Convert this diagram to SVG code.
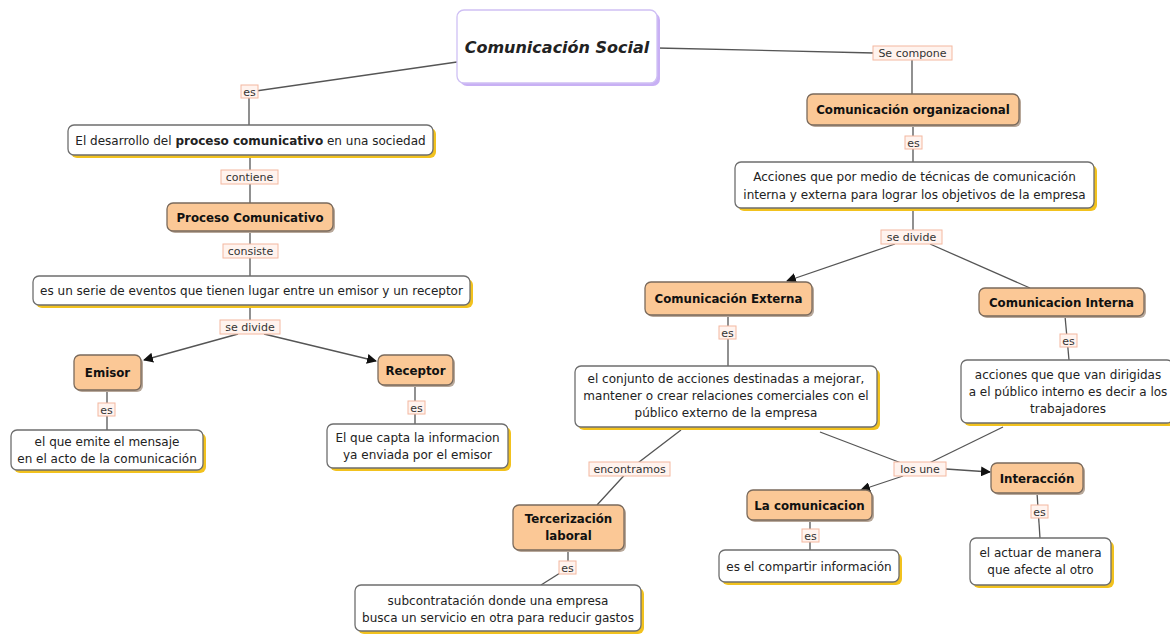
<svg xmlns="http://www.w3.org/2000/svg" width="1170" height="635" viewBox="0 0 1170 635">
<defs>
<marker id="arr" markerWidth="10" markerHeight="10" refX="9" refY="5" orient="auto" markerUnits="userSpaceOnUse">
<path d="M0,0 L10,5 L0,10 z" fill="#111"/>
</marker>
<style>
.ln{stroke:#555;stroke-width:1.3;fill:none}
.wsh{fill:#f2c21e}
.w{fill:#fff;stroke:#6e6e6e;stroke-width:1.3}
.osh{fill:#b8a89a}
.o{fill:#fbc896;stroke:#7a6a5c;stroke-width:1.3}
.lb{fill:#fff3ee;stroke:#f4b8a0;stroke-width:1}
.t{font-family:"DejaVu Sans",Verdana,sans-serif;font-size:12px;fill:#222;text-anchor:middle}
.b{font-family:"DejaVu Sans",Verdana,sans-serif;font-size:11.8px;font-weight:bold;fill:#111;text-anchor:middle}
.lt{font-family:"DejaVu Sans",Verdana,sans-serif;font-size:11px;fill:#333;text-anchor:middle}
</style>
</defs>
<rect width="1170" height="635" fill="#fff"/>

<g id="connectors">
<polyline class="ln" points="457,62 249,92 249,125"/>
<line class="ln" x1="250" y1="155" x2="250" y2="203"/>
<line class="ln" x1="250" y1="231" x2="250" y2="276"/>
<line class="ln" x1="250" y1="305" x2="250" y2="327"/>
<line class="ln" x1="238" y1="334" x2="144" y2="360" marker-end="url(#arr)"/>
<line class="ln" x1="264" y1="334" x2="376" y2="361" marker-end="url(#arr)"/>
<line class="ln" x1="107" y1="390" x2="107" y2="430"/>
<line class="ln" x1="415" y1="385" x2="415" y2="424"/>
<polyline class="ln" points="657,48 874,53"/>
<line class="ln" x1="912" y1="60" x2="912" y2="94"/>
<line class="ln" x1="913" y1="125" x2="913" y2="162"/>
<line class="ln" x1="913" y1="208" x2="913" y2="237"/>
<line class="ln" x1="895" y1="244" x2="787" y2="281" marker-end="url(#arr)"/>
<line class="ln" x1="930" y1="244" x2="1030" y2="288"/>
<line class="ln" x1="728" y1="315" x2="728" y2="366"/>
<line class="ln" x1="1065" y1="316" x2="1069" y2="360"/>
<polyline class="ln" points="681,430 630,469 597,505"/>
<line class="ln" x1="568" y1="550" x2="568" y2="568"/>
<line class="ln" x1="568" y1="568" x2="541" y2="585"/>
<line class="ln" x1="820" y1="432" x2="917" y2="469"/>
<line class="ln" x1="1003" y1="427" x2="917" y2="469"/>
<line class="ln" x1="903" y1="476" x2="861" y2="490" marker-end="url(#arr)"/>
<line class="ln" x1="946" y1="469" x2="990" y2="472" marker-end="url(#arr)"/>
<line class="ln" x1="810" y1="520" x2="810" y2="550"/>
<line class="ln" x1="1037" y1="493" x2="1040" y2="538"/>
</g>

<g id="labels">
<rect class="lb" x="241" y="85" width="17" height="13"/><text class="lt" x="249.5" y="95.5">es</text>
<rect class="lb" x="221" y="170" width="57" height="14"/><text class="lt" x="249.5" y="181">contiene</text>
<rect class="lb" x="223" y="244" width="55" height="14"/><text class="lt" x="250.5" y="255">consiste</text>
<rect class="lb" x="220" y="320" width="60" height="14"/><text class="lt" x="250" y="331">se divide</text>
<rect class="lb" x="98" y="403" width="17" height="13"/><text class="lt" x="106.5" y="413.5">es</text>
<rect class="lb" x="408" y="401" width="17" height="13"/><text class="lt" x="416.5" y="411.5">es</text>
<rect class="lb" x="873" y="46" width="79" height="14"/><text class="lt" x="912.5" y="57">Se compone</text>
<rect class="lb" x="905" y="136" width="17" height="13"/><text class="lt" x="913.5" y="146.5">es</text>
<rect class="lb" x="881" y="230" width="61" height="14"/><text class="lt" x="911.5" y="241">se divide</text>
<rect class="lb" x="719" y="326" width="17" height="13"/><text class="lt" x="727.5" y="336.5">es</text>
<rect class="lb" x="1060" y="334" width="17" height="13"/><text class="lt" x="1068.5" y="344.5">es</text>
<rect class="lb" x="589" y="462" width="81" height="14"/><text class="lt" x="629.5" y="473">encontramos</text>
<rect class="lb" x="559" y="561" width="17" height="13"/><text class="lt" x="567.5" y="571.5">es</text>
<rect class="lb" x="894" y="462" width="52" height="14"/><text class="lt" x="920" y="473">los une</text>
<rect class="lb" x="802" y="529" width="17" height="13"/><text class="lt" x="810.5" y="539.5">es</text>
<rect class="lb" x="1031" y="505" width="17" height="13"/><text class="lt" x="1039.5" y="515.5">es</text>
</g>

<g id="n-central">
<rect x="460" y="13" width="200" height="73" rx="7" fill="#c8b0f4"/>
<rect x="457" y="10" width="200" height="73" rx="7" fill="#fff" stroke="#cfc0f4" stroke-width="1.3"/>
<text x="557" y="53" font-family="'DejaVu Sans',Verdana,sans-serif" font-size="16" font-weight="bold" font-style="italic" fill="#222" text-anchor="middle">Comunicación Social</text>
</g>

<g id="n-desarrollo">
<rect class="wsh" x="71" y="128" width="365" height="30" rx="6"/>
<rect class="w" x="68" y="125" width="365" height="30" rx="6"/>
<text class="t" x="250.5" y="144.5">El desarrollo del <tspan font-weight="bold">proceso comunicativo</tspan> en una sociedad</text>
</g>

<g id="n-proceso">
<rect class="osh" x="169" y="205" width="166" height="28" rx="6"/>
<rect class="o" x="167" y="203" width="166" height="28" rx="6"/>
<text class="b" x="250" y="221.5">Proceso Comunicativo</text>
</g>

<g id="n-serie">
<rect class="wsh" x="36" y="279" width="437" height="29" rx="6"/>
<rect class="w" x="33" y="276" width="437" height="29" rx="6"/>
<text class="t" x="251.5" y="294.5">es un serie de eventos que tienen lugar entre un emisor y un receptor</text>
</g>

<g id="n-emisor">
<rect class="osh" x="76" y="357" width="67" height="35" rx="6"/>
<rect class="o" x="74" y="355" width="67" height="35" rx="6"/>
<text class="b" x="107.5" y="377">Emisor</text>
</g>

<g id="n-emisor-def">
<rect class="wsh" x="14" y="433" width="192" height="40" rx="6"/>
<rect class="w" x="11" y="430" width="192" height="40" rx="6"/>
<text class="t" x="107" y="446">el que emite el mensaje</text>
<text class="t" x="107" y="463">en el acto de la comunicación</text>
</g>

<g id="n-receptor">
<rect class="osh" x="380" y="357" width="75" height="30" rx="6"/>
<rect class="o" x="378" y="355" width="75" height="30" rx="6"/>
<text class="b" x="415.5" y="374.5">Receptor</text>
</g>

<g id="n-receptor-def">
<rect class="wsh" x="330" y="427" width="181" height="44" rx="6"/>
<rect class="w" x="327" y="424" width="181" height="44" rx="6"/>
<text class="t" x="417.5" y="442">El que capta la informacion</text>
<text class="t" x="417.5" y="459">ya enviada por el emisor</text>
</g>

<g id="n-organizacional">
<rect class="osh" x="809" y="96" width="212" height="31" rx="6"/>
<rect class="o" x="807" y="94" width="212" height="31" rx="6"/>
<text class="b" x="913" y="114">Comunicación organizacional</text>
</g>

<g id="n-acciones">
<rect class="wsh" x="738" y="165" width="359" height="46" rx="6"/>
<rect class="w" x="735" y="162" width="359" height="46" rx="6"/>
<text class="t" x="914.5" y="181">Acciones que por medio de técnicas de comunicación</text>
<text class="t" x="914.5" y="199">interna y externa para lograr los objetivos de la empresa</text>
</g>

<g id="n-externa">
<rect class="osh" x="647" y="284" width="167" height="33" rx="6"/>
<rect class="o" x="645" y="282" width="167" height="33" rx="6"/>
<text class="b" x="728.5" y="303">Comunicación Externa</text>
</g>

<g id="n-interna">
<rect class="osh" x="981" y="290" width="165" height="28" rx="6"/>
<rect class="o" x="979" y="288" width="165" height="28" rx="6"/>
<text class="b" x="1061.5" y="306.5">Comunicacion Interna</text>
</g>

<g id="n-conjunto">
<rect class="wsh" x="578" y="369" width="302" height="61" rx="6"/>
<rect class="w" x="575" y="366" width="302" height="61" rx="6"/>
<text class="t" x="726" y="383">el conjunto de acciones destinadas a mejorar,</text>
<text class="t" x="726" y="400">mantener o crear relaciones comerciales con el</text>
<text class="t" x="726" y="417">público externo de la empresa</text>
</g>

<g id="n-interna-def">
<rect class="wsh" x="964" y="363" width="212" height="63" rx="6"/>
<rect class="w" x="961" y="360" width="212" height="63" rx="6"/>
<text class="t" x="1068" y="379">acciones que que van dirigidas</text>
<text class="t" x="1068" y="396">a el público interno es decir a los</text>
<text class="t" x="1068" y="413">trabajadores</text>
</g>

<g id="n-tercerizacion">
<rect class="osh" x="515" y="507" width="111" height="45" rx="6"/>
<rect class="o" x="513" y="505" width="111" height="45" rx="6"/>
<text class="b" x="568.5" y="523">Tercerización</text>
<text class="b" x="568.5" y="540">laboral</text>
</g>

<g id="n-subcontratacion">
<rect class="wsh" x="358" y="588" width="286" height="46" rx="6"/>
<rect class="w" x="355" y="585" width="286" height="46" rx="6"/>
<text class="t" x="498" y="605">subcontratación donde una empresa</text>
<text class="t" x="498" y="622">busca un servicio en otra para reducir gastos</text>
</g>

<g id="n-lacomunicacion">
<rect class="osh" x="749" y="492" width="125" height="30" rx="6"/>
<rect class="o" x="747" y="490" width="125" height="30" rx="6"/>
<text class="b" x="809.5" y="509.5">La comunicacion</text>
</g>

<g id="n-compartir">
<rect class="wsh" x="722" y="553" width="180" height="32" rx="6"/>
<rect class="w" x="719" y="550" width="180" height="32" rx="6"/>
<text class="t" x="809" y="570.5">es el compartir información</text>
</g>

<g id="n-interaccion">
<rect class="osh" x="993" y="465" width="92" height="30" rx="6"/>
<rect class="o" x="991" y="463" width="92" height="30" rx="6"/>
<text class="b" x="1037" y="482.5">Interacción</text>
</g>

<g id="n-actuar">
<rect class="wsh" x="973" y="541" width="141" height="47" rx="6"/>
<rect class="w" x="970" y="538" width="141" height="47" rx="6"/>
<text class="t" x="1040.5" y="557">el actuar de manera</text>
<text class="t" x="1040.5" y="574">que afecte al otro</text>
</g>
</svg>
